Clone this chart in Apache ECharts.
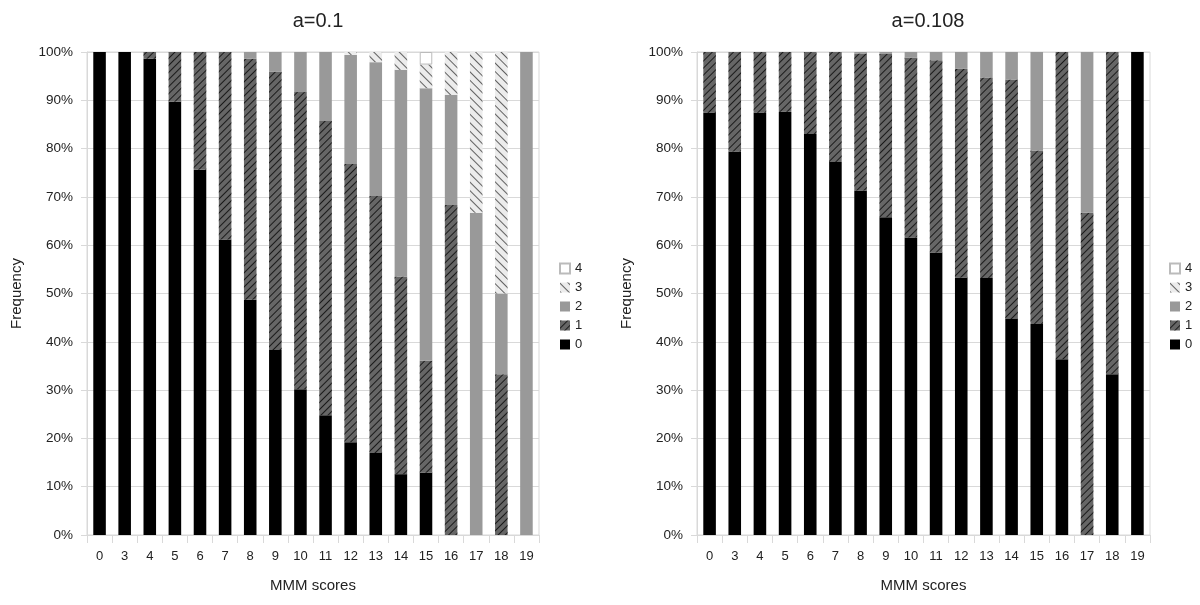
<!DOCTYPE html>
<html><head><meta charset="utf-8">
<script src="https://cdn.jsdelivr.net/npm/echarts@6/dist/echarts.min.js"></script>
<style>html,body{margin:0;padding:0;background:#fff}#c{width:1200px;height:605px}</style>
</head><body><div id="c"></div>
<script>
const categories = ['0','3','4','5','6','7','8','9','10','11','12','13','14','15','16','17','18','19'];
const seriesNames = ['0','1','2','3','4'];
const titles = ['a=0.1','a=0.108'];

// a=0.1
const leftS0 = [100,100,98.6,89.7,75.6,61.2,48.7,38.3,30.2,24.8,19.2,17.0,12.6,12.9,0,0,0,0];
const leftS1 = [0,0,1.4,10.3,24.4,38.8,49.9,57.6,61.5,60.9,57.6,53.2,40.9,23.2,68.3,0,33.3,0];
const leftS2 = [0,0,0,0,0,0,1.4,4.1,8.3,14.3,22.6,27.7,42.8,56.4,22.8,66.7,16.7,100];
const leftS3 = [0,0,0,0,0,0,0,0,0,0,0.6,2.1,3.7,4.9,8.9,33.3,50,0];
const leftS4 = [0,0,0,0,0,0,0,0,0,0,0,0,0,2.6,0,0,0,0];

// a=0.108
const rightS0 = [87.4,79.4,87.4,87.6,83.0,77.2,71.3,65.8,61.6,58.5,53.3,53.2,44.7,43.7,36.4,0,33.3,100];
const rightS1 = [12.6,20.6,12.6,12.4,17.0,22.8,28.4,33.8,37.2,39.8,43.2,41.5,49.6,35.9,63.6,66.7,66.7,0];
const rightS2 = [0,0,0,0,0,0,0.3,0.4,1.2,1.7,3.5,5.3,5.7,20.4,0,33.3,0,0];
const rightS3 = [0,0,0,0,0,0,0,0,0,0,0,0,0,0,0,0,0,0];
const rightS4 = [0,0,0,0,0,0,0,0,0,0,0,0,0,0,0,0,0,0];

const styles = [
  {color:'#000000'},
  {color:'#666666', decal:{symbol:'rect', symbolSize:1, color:'rgba(0,0,0,0.75)', dashArrayX:[1,0], dashArrayY:[1,4], rotation:-Math.PI/4}},
  {color:'#999999'},
  {color:'#ececec', decal:{symbol:'rect', symbolSize:1, color:'rgba(60,60,60,0.8)', dashArrayX:[1,0], dashArrayY:[1,5], rotation:Math.PI/4}},
  {color:'#ffffff', borderColor:'#bbbbbb', borderWidth:1}
];

const leftData = [leftS0,leftS1,leftS2,leftS3,leftS4];
const rightData = [rightS0,rightS1,rightS2,rightS3,rightS4];

const font = 'Liberation Sans, Arial, sans-serif';
const grids = [
  {left:87, top:52, width:452, height:483, show:true, borderColor:'#d9d9d9', borderWidth:1},
  {left:697, top:52, width:453, height:483, show:true, borderColor:'#d9d9d9', borderWidth:1}
];
const xAxes = [0,1].map(i=>({
  type:'category', gridIndex:i, data:categories,
  name:'MMM scores', nameLocation:'middle', nameGap:43,
  nameTextStyle:{fontSize:15, color:'#222', fontFamily:font},
  axisLine:{lineStyle:{color:'#d9d9d9'}},
  axisTick:{show:true, length:8, lineStyle:{color:'#d9d9d9'}},
  axisLabel:{fontSize:13, color:'#222', fontFamily:font, margin:15},
  splitLine:{show:false}
}));
const yAxes = [0,1].map(i=>({
  type:'value', gridIndex:i, min:0, max:100, interval:10,
  name:'Frequency', nameLocation:'middle', nameGap:63,
  nameTextStyle:{fontSize:15, color:'#222', fontFamily:font},
  axisLine:{show:true, lineStyle:{color:'#d9d9d9'}},
  axisTick:{show:true, length:6, lineStyle:{color:'#d9d9d9'}},
  axisLabel:{fontSize:13.5, color:'#222', fontFamily:font, formatter:'{value}%', margin:14},
  splitLine:{show:true, lineStyle:{color:'#d9d9d9'}}
}));
const series = [];
[leftData, rightData].forEach((dset, gi)=>{
  dset.forEach((arr, si)=>{
    series.push({
      type:'bar', name:seriesNames[si], xAxisIndex:gi, yAxisIndex:gi,
      stack:'s'+gi, data:arr.map(v => v === 0 ? null : v), barCategoryGap:'50%',
      itemStyle:Object.assign({}, styles[si]),
      emphasis:{disabled:true}, animation:false
    });
  });
});
const legendCommon = {
  orient:'vertical', data:['4','3','2','1','0'], itemWidth:10, itemHeight:10, itemGap:6,
  icon:'rect', textStyle:{fontSize:13, color:'#222', fontFamily:font}, selectedMode:false
};
const option = {
  backgroundColor:'#fff',
  animation:false,
  title:[
    {text:titles[0], left:313, top:6, textAlign:'center', textStyle:{fontSize:20, fontWeight:'normal', color:'#222', fontFamily:font}},
    {text:titles[1], left:923, top:6, textAlign:'center', textStyle:{fontSize:20, fontWeight:'normal', color:'#222', fontFamily:font}}
  ],
  grid:grids, xAxis:xAxes, yAxis:yAxes,
  legend:[Object.assign({left:554, top:257}, legendCommon), Object.assign({left:1164, top:257}, legendCommon)],
  series:series
};
const chart = echarts.init(document.getElementById('c'), null, {renderer:'canvas'});
chart.setOption(option);
</script></body></html>
